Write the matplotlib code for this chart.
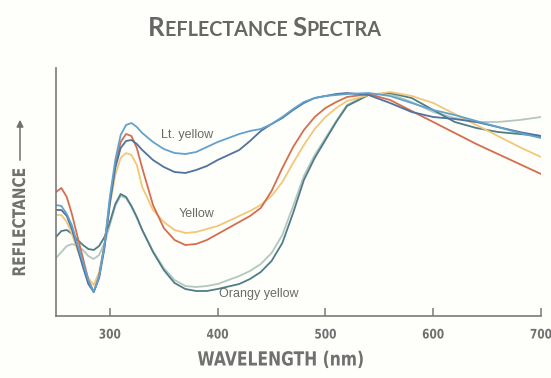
import matplotlib
matplotlib.use("Agg")
import matplotlib.pyplot as plt
from matplotlib.patheffects import AbstractPathEffect
from matplotlib.transforms import Affine2D

# Wavelength grid (nm)
wavelength = [250, 255, 260, 265, 270, 275, 280, 285, 290, 295,
              300, 305, 310, 315, 320, 325, 330,
              340, 350, 360, 370, 380, 390, 400,
              420, 430, 440, 450, 460, 470, 480, 490, 500, 510, 520, 540,
              560, 580, 600, 620, 640, 660, 680, 700]

# Reflectance (arbitrary units)
lt_yellow_a = [111, 110, 102, 90, 71, 54, 36, 24, 40, 71,
               119, 156, 181, 191, 193, 189, 183,
               174, 167, 163, 162, 164, 169, 174,
               182, 185, 187, 192, 199, 207, 214, 218, 220, 221, 222, 223,
               220, 213, 206, 201, 195, 189, 183, 178]
lt_yellow_b = [106, 106, 100, 86, 68, 49, 32, 24, 38, 68,
               113, 148, 168, 175, 176, 172, 166,
               156, 149, 144, 143, 146, 150, 156,
               166, 175, 185, 192, 198, 206, 213, 218, 220, 222, 223, 221,
               213, 204, 199, 197, 194, 189, 184, 180]
yellow_a = [124, 128, 119, 101, 79, 58, 36, 24, 40, 71,
            116, 151, 174, 182, 180, 168, 148,
            111, 88, 76, 71, 72, 76, 82,
            94, 100, 108, 125, 148, 169, 186, 199, 208, 214, 219, 222,
            216, 205, 194, 183, 172, 162, 152, 142]
yellow_b = [101, 101, 94, 81, 66, 51, 38, 31, 44, 71,
            111, 141, 158, 163, 161, 151, 129,
            106, 94, 86, 83, 84, 87, 90,
            100, 105, 111, 120, 134, 153, 171, 187, 199, 208, 215, 221,
            224, 220, 213, 202, 191, 180, 169, 159]
orangy_a = [79, 85, 86, 82, 76, 71, 67, 66, 70, 79,
            94, 112, 122, 119, 110, 99, 86,
            64, 46, 33, 27, 25, 25, 27,
            32, 37, 44, 55, 73, 103, 136, 158, 176, 194, 210, 221,
            223, 218, 206, 194, 188, 184, 182, 180]
orangy_b = [58, 64, 70, 72, 70, 66, 60, 57, 61, 73,
            91, 110, 120, 118, 109, 98, 86,
            65, 48, 36, 30, 29, 30, 32,
            40, 45, 52, 63, 81, 110, 140, 161, 178, 195, 211, 222,
            222, 214, 204, 198, 194, 194, 196, 199]

xticks = [300, 400, 500, 600, 700]
xtick_labels = ["300", "400", "500", "600", "700"]

series = [
    (orangy_b, "#b3c7c0"),
    (orangy_a, "#4f7d86"),
    (yellow_b, "#f2c77a"),
    (yellow_a, "#d46e4e"),
    (lt_yellow_b, "#50729f"),
    (lt_yellow_a, "#62a2cc"),
]

GREY = "#707070"


class Condense(AbstractPathEffect):
    """Squeeze text glyphs along the reading direction (condensed look)."""

    def __init__(self, factor=0.8, vertical=False):
        super().__init__()
        self.factor = factor
        self.vertical = vertical

    def draw_path(self, renderer, gc, tpath, affine, rgbFace=None):
        bb = tpath.get_extents(affine)
        if self.vertical:
            cy = (bb.y0 + bb.y1) / 2
            extra = Affine2D().translate(0, -cy).scale(1, self.factor).translate(0, cy)
        else:
            cx = (bb.x0 + bb.x1) / 2
            extra = Affine2D().translate(-cx, 0).scale(self.factor, 1).translate(cx, 0)
        renderer.draw_path(gc, tpath, affine + extra, rgbFace)


cond_kw = dict(fontfamily="DejaVu Sans", fontweight="bold", color=GREY)

fig = plt.figure(figsize=(5.51, 3.78), dpi=100, facecolor="#fefefb")
ax = fig.add_axes([56 / 551, 1 - 316 / 378, (541 - 56) / 551, (316 - 68) / 378])
ax.set_facecolor("#fefefb")

for vals, col in series:
    ax.plot(wavelength, vals, color=col, lw=1.3, solid_capstyle="round",
            solid_joinstyle="round")

ax.set_xlim(250, 700)
ax.set_ylim(0, 248)

for s in ["top", "right"]:
    ax.spines[s].set_visible(False)
for s in ["left", "bottom"]:
    ax.spines[s].set_color("#7a7a7a")
    ax.spines[s].set_linewidth(1.2)

ax.set_yticks([])
ax.set_xticks(xticks)
ax.set_xticklabels(xtick_labels, fontsize=9.5, **cond_kw)
for lab in ax.get_xticklabels():
    lab.set_path_effects([Condense(0.8)])
ax.tick_params(axis="x", direction="in", length=6, width=1.1,
               color="#7a7a7a", pad=9)

# Curve labels
lab_kw = dict(fontfamily=["Liberation Sans", "DejaVu Sans"], fontsize=9,
              color="#6a6a6a", ha="center", va="center")
ax.text(372, 181, "Lt. yellow", **lab_kw)
ax.text(380, 102, "Yellow", **lab_kw)
ax.text(438, 22, "Orangy yellow", **lab_kw)

# Axis labels
fig.text(281 / 551, 1 - 360 / 378, "WAVELENGTH (nm)", fontsize=14,
         ha="center", va="center", path_effects=[Condense(0.8)], **cond_kw)
fig.text(20 / 551, 1 - 222 / 378, "REFLECTANCE", fontsize=12.5,
         ha="center", va="center", rotation=90,
         path_effects=[Condense(0.8, vertical=True)], **cond_kw)
fig.add_artist(matplotlib.patches.FancyArrowPatch(
    (20 / 551, 1 - 163 / 378), (20 / 551, 1 - 117 / 378),
    transform=fig.transFigure, arrowstyle="-|>,head_length=4,head_width=2",
    color=GREY, lw=1.1, mutation_scale=1))

# Title in small caps
parts = [("R", 18.5), ("EFLECTANCE ", 14.2), ("S", 18.5), ("PECTRA", 14.2)]
fig.canvas.draw()
renderer = fig.canvas.get_renderer()
texts = []
for txt, size in parts:
    t = fig.text(0, 1 - 36 / 378, txt, fontfamily=["Lato", "DejaVu Sans"],
                 fontweight="bold", fontsize=size, color="#666666",
                 ha="left", va="baseline")
    texts.append(t)
widths = [t.get_window_extent(renderer).width for t in texts]
total = sum(widths)
x0 = 265 - total / 2
for t, w in zip(texts, widths):
    t.set_x(x0 / 551)
    x0 += w

fig.savefig("out.png", dpi=100, facecolor=fig.get_facecolor())
